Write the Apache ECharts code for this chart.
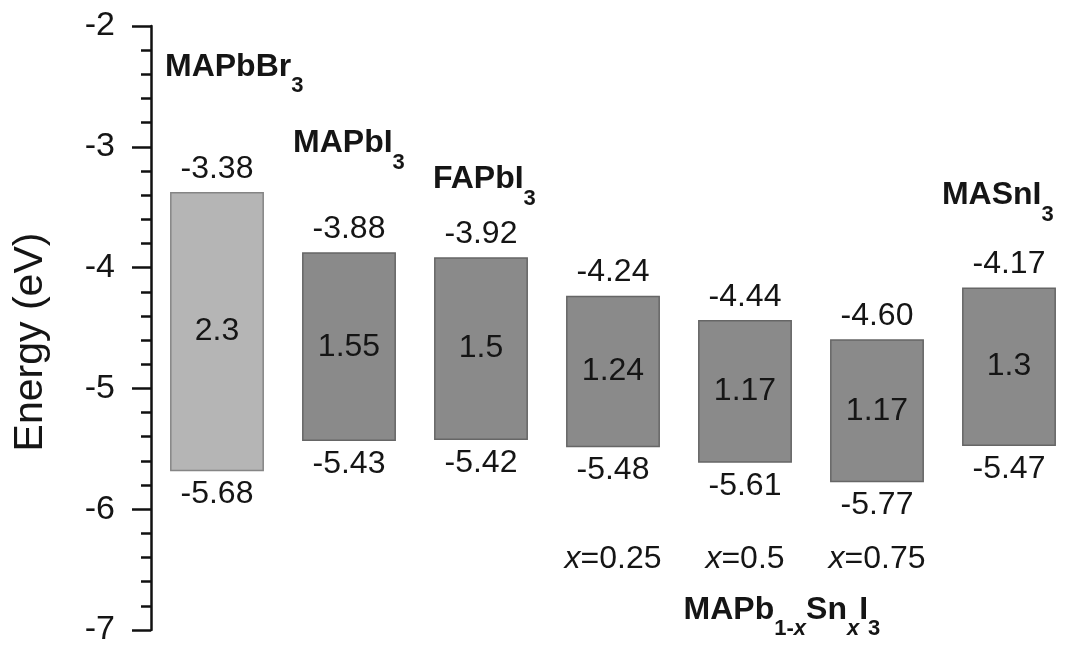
<!DOCTYPE html>
<html>
<head>
<meta charset="utf-8">
<title>Band alignment</title>
<script src="https://cdn.jsdelivr.net/npm/echarts@6/dist/echarts.min.js"></script>
<style>
  html, body { margin: 0; padding: 0; background: #fff; }
  #chart { width: 1068px; height: 647px; }
</style>
</head>
<body>
<div id="chart"></div>
<script>
// Band edges (eV) for each perovskite, left to right
const materials = ['MAPbBr3', 'MAPbI3', 'FAPbI3', 'MAPb0.75Sn0.25I3', 'MAPb0.5Sn0.5I3', 'MAPb0.25Sn0.75I3', 'MASnI3'];
const cbmValues = [-3.38, -3.88, -3.92, -4.24, -4.44, -4.60, -4.17];
const vbmValues = [-5.68, -5.43, -5.42, -5.48, -5.61, -5.77, -5.47];
const gapLabels = ['2.3', '1.55', '1.5', '1.24', '1.17', '1.17', '1.3'];
const tinFractions = ['0.25', '0.5', '0.75'];
const yTicks = [-7, -6, -5, -4, -3, -2];

const FONT = '"Liberation Sans", Arial, sans-serif';
const TEXT = '#151515';

const chart = echarts.init(document.getElementById('chart'), null, {renderer: 'canvas'});

/**
 * Draws one floating band (rectangle between VBM and CBM) with its three labels.
 */
function renderBand(params, api) {
  const i = api.value(0);
  const top = api.coord([i, api.value(1)]);
  const bottom = api.coord([i, api.value(2)]);
  const w = api.size([0.7, 0])[0];
  const cx = top[0];
  const textStyle = {fontSize: 32, fontFamily: FONT, fill: TEXT, align: 'center'};
  return {
    type: 'group',
    children: [
      {
        type: 'rect',
        shape: {x: cx - w / 2, y: top[1], width: w, height: bottom[1] - top[1]},
        style: {fill: i === 0 ? '#b5b5b5' : '#8a8a8a', stroke: i === 0 ? '#858585' : '#666666', lineWidth: 1.5}
      },
      {
        type: 'text', x: cx, y: top[1] - 8,
        style: Object.assign({text: cbmValues[i].toFixed(2), verticalAlign: 'bottom'}, textStyle)
      },
      {
        type: 'text', x: cx, y: bottom[1] + 8,
        style: Object.assign({text: vbmValues[i].toFixed(2), verticalAlign: 'top'}, textStyle)
      },
      {
        type: 'text', x: cx, y: (top[1] + bottom[1]) / 2,
        style: Object.assign({text: gapLabels[i], verticalAlign: 'middle'}, textStyle)
      }
    ]
  };
}

const bandData = materials.map((name, i) => ({name: name, value: [i, cbmValues[i], vbmValues[i]]}));

// Rich text styles for chemical formulas with subscripts
const SUB_DROP = 24;
const formulaRich = {
  m: {fontSize: 32, fontWeight: 'bold', fontFamily: FONT, fill: TEXT, lineHeight: 32, verticalAlign: 'middle'},
  s: {fontSize: 22, fontWeight: 'bold', fontFamily: FONT, fill: TEXT, lineHeight: 22, verticalAlign: 'top', padding: [SUB_DROP, 0, 0, 0]},
  si: {fontSize: 22, fontWeight: 'bold', fontStyle: 'italic', fontFamily: FONT, fill: TEXT, lineHeight: 22, verticalAlign: 'top', padding: [SUB_DROP, 0, 0, 0]}
};
const xRich = {
  i: {fontSize: 32, fontStyle: 'italic', fontFamily: FONT, fill: TEXT},
  n: {fontSize: 32, fontFamily: FONT, fill: TEXT}
};

// Annotation texts, anchored in data coordinates
const annotations = [
  {text: '{m|MAPbBr}{s|3}', at: [-0.394, -2.338], align: 'left', rich: formulaRich},
  {text: '{m|MAPbI}{s|3}', at: [0.576, -2.974], align: 'left', rich: formulaRich},
  {text: '{m|FAPbI}{s|3}', at: [1.636, -3.271], align: 'left', rich: formulaRich},
  {text: '{m|MASnI}{s|3}', at: [5.492, -3.403], align: 'left', rich: formulaRich},
  {text: '{m|MAPb}{s|1-}{si|x}{m|Sn}{si|x}{m|I}{s|3}', at: [4.28, -6.835], align: 'center', rich: formulaRich}
].concat(tinFractions.map((x, k) => ({
  text: '{i|x}{n|=' + x + '}', at: [3 + k, -6.414], align: 'center', rich: xRich
})));

function renderAnnotation(params, api) {
  const a = annotations[params.dataIndex];
  const p = api.coord([api.value(0), api.value(1)]);
  return {
    type: 'text',
    x: p[0],
    y: p[1],
    style: {text: a.text, rich: a.rich, align: a.align, verticalAlign: 'middle', fill: TEXT}
  };
}

const option = {
  backgroundColor: '#fff',
  animation: false,
  grid: {left: 151, right: 0, top: 26, bottom: 15},
  xAxis: {
    type: 'value',
    min: -0.5,
    max: 6.447,
    show: false
  },
  yAxis: {
    type: 'value',
    min: -7,
    max: -2,
    interval: 1,
    name: 'Energy (eV)',
    nameLocation: 'middle',
    nameGap: 100,
    nameTextStyle: {fontSize: 41, fontFamily: FONT, color: TEXT, padding: [0, 28, 0, 0]},
    axisLine: {show: true, onZero: false, lineStyle: {color: '#111', width: 2.5}},
    axisTick: {show: true, length: 19, lineStyle: {color: '#111', width: 2.5}},
    minorTick: {show: true, splitNumber: 5, length: 10, lineStyle: {color: '#111', width: 2.5}},
    splitLine: {show: false},
    axisLabel: {
      fontSize: 34,
      fontFamily: FONT,
      color: TEXT,
      margin: 36,
      formatter: v => yTicks.includes(v) ? String(v) : ''
    }
  },
  series: [
    {
      type: 'custom',
      renderItem: renderBand,
      data: bandData,
      clip: false
    },
    {
      type: 'custom',
      renderItem: renderAnnotation,
      silent: true,
      data: annotations.map(a => a.at),
      clip: false
    }
  ]
};

chart.setOption(option);

window.addEventListener('resize', function () {
  chart.resize();
});
</script>
</body>
</html>
